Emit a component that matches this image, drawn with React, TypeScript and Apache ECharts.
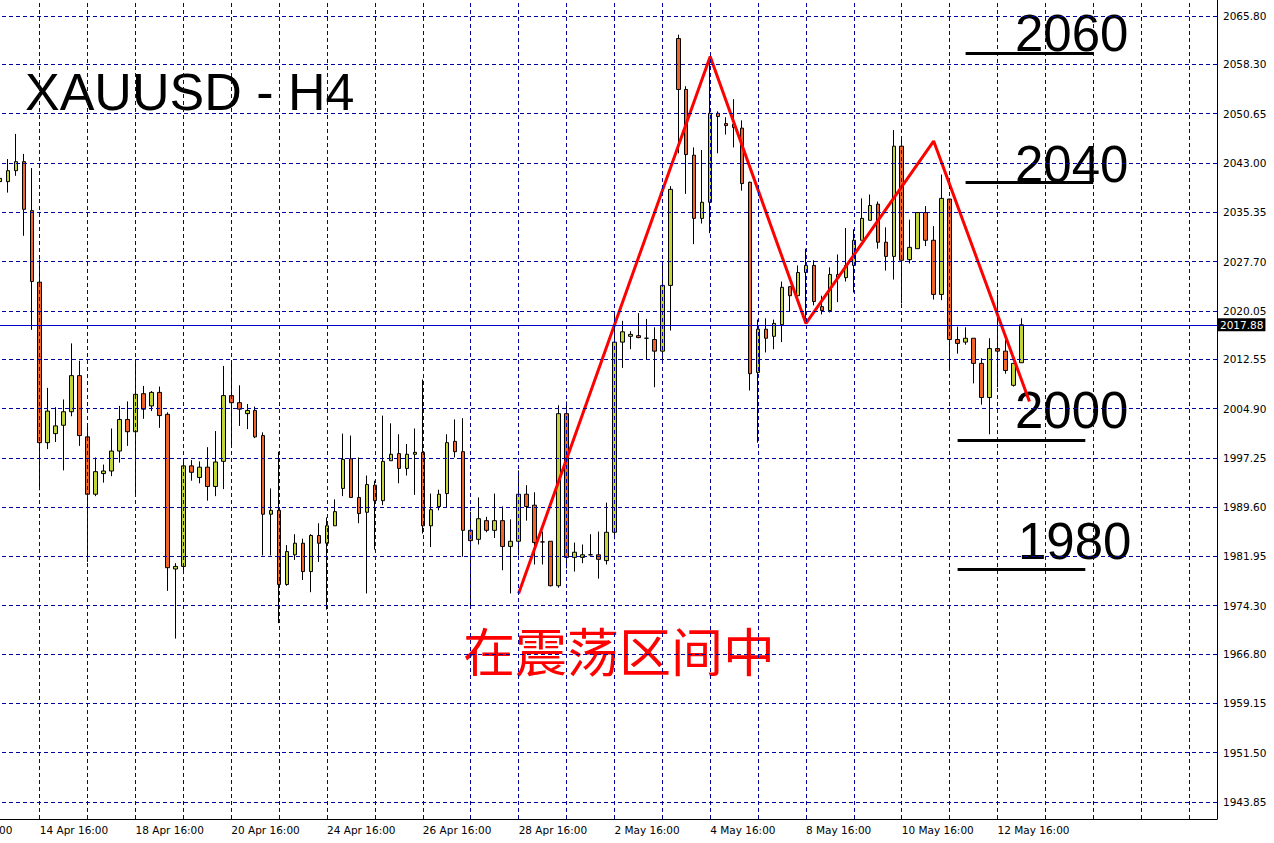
import React, { useEffect, useRef } from "react";
import * as echarts from "echarts";

// ---- time categories (H4 bars, weekdays only) ----
const days = ["12 Apr", "13 Apr", "14 Apr", "17 Apr", "18 Apr", "19 Apr", "20 Apr", "21 Apr", "24 Apr", "25 Apr", "26 Apr", "27 Apr", "28 Apr", "1 May", "2 May", "3 May", "4 May", "5 May", "8 May", "9 May", "10 May", "11 May", "12 May", "15 May", "16 May", "17 May", "18 May", "19 May"];
const hours = ["00:00", "04:00", "08:00", "12:00", "16:00", "20:00"];
const FIRST_SLOT = 3; // 12 Apr 12:00
const PAD = 8; // bars left of the first drawn candle (off screen)
const SLOTS = 161;

// ---- OHLC (first candle = 13 Apr 20:00) ----
const opens = [2040.1, 2040.1, 2041.8, 2043.2, 2035.6, 2024.5, 1999.6, 2001.0, 2002.3, 2004.4, 2010.0, 2000.5, 1991.6, 1994.8, 1995.2, 1998.3, 2003.2, 2001.3, 2007.2, 2005.3, 2007.4, 2004.0, 1980.0, 1980.4, 1996.0, 1994.2, 1995.8, 1992.8, 1996.7, 2006.9, 2005.8, 2004.1, 2004.6, 2000.7, 1988.5, 1989.1, 1977.6, 1982.2, 1984.0, 1979.6, 1985.2, 1984.0, 1986.7, 1992.5, 1997.1, 1991.1, 1988.8, 1993.0, 1990.6, 1996.8, 1997.9, 1995.6, 1997.8, 1998.1, 1986.7, 1989.7, 1991.7, 1999.8, 1998.2, 1986.0, 1984.6, 1987.5, 1986.0, 1987.5, 1983.5, 1984.3, 1991.6, 1989.9, 1984.2, 1984.3, 1977.4, 2004.1, 1981.8, 1981.8, 1982.2, 1982.2, 1981.3, 1985.7, 2015.2, 2016.1, 2016.2, 2015.8, 2015.6, 2013.8, 2024.0, 2062.3, 2054.4, 2044.2, 2034.4, 2036.9, 2050.7, 2049.1, 2049.0, 2048.4, 2040.0, 2010.5, 2017.2, 2016.1, 2017.9, 2023.8, 2022.4, 2026.0, 2027.1, 2020.7, 2020.1, 2025.2, 2025.2, 2027.1, 2031.0, 2034.1, 2036.6, 2030.7, 2028.5, 2045.6, 2028.0, 2029.7, 2035.3, 2031.0, 2022.6, 2037.4, 2015.6, 2015.2, 2015.8, 2011.9, 2006.6, 2014.2, 2013.8, 2008.5, 2012.0];
const highs = [2044.2, 2043.6, 2047.5, 2044.4, 2042.2, 2028.0, 2008.1, 2005.1, 2006.3, 2015.0, 2012.3, 2002.3, 1997.3, 1996.2, 2001.8, 2005.3, 2006.0, 2012.3, 2008.4, 2007.6, 2008.3, 2004.3, 1980.9, 1996.6, 1996.9, 1996.7, 1998.9, 2001.4, 2011.5, 2012.4, 2008.5, 2005.6, 2005.2, 2001.2, 1992.5, 1998.2, 1983.7, 1985.4, 1984.7, 1985.4, 1987.1, 1988.0, 1990.8, 2001.0, 2000.7, 1997.3, 1994.5, 1993.7, 2003.8, 2002.6, 2000.9, 1999.4, 2001.8, 2009.4, 1991.7, 1992.3, 2000.9, 2003.2, 2003.4, 1988.9, 1991.1, 1988.1, 1991.7, 1989.7, 1987.7, 1995.3, 1993.0, 1991.9, 1985.8, 1984.3, 2005.4, 2006.0, 1984.1, 1983.8, 1985.4, 1985.8, 1990.3, 2019.6, 2018.5, 2016.9, 2019.7, 2018.8, 2017.5, 2027.1, 2039.4, 2062.9, 2054.9, 2045.4, 2045.0, 2059.2, 2051.0, 2050.1, 2052.9, 2049.6, 2040.1, 2018.7, 2018.9, 2018.7, 2024.6, 2023.8, 2027.1, 2029.7, 2027.9, 2022.4, 2026.8, 2028.8, 2032.9, 2032.7, 2037.5, 2038.1, 2037.0, 2033.0, 2048.1, 2046.7, 2034.2, 2035.3, 2036.3, 2033.2, 2041.2, 2037.4, 2017.6, 2017.5, 2015.8, 2012.7, 2015.8, 2022.6, 2015.5, 2011.9, 2018.9];
const lows = [2036.5, 2038.4, 2041.0, 2031.7, 2017.1, 1992.2, 1998.6, 1999.7, 1995.3, 2003.7, 1999.1, 1981.1, 1991.3, 1993.4, 1994.4, 1996.5, 1999.1, 1991.2, 2003.3, 2004.5, 2001.9, 1976.6, 1969.2, 1979.2, 1993.7, 1993.3, 1990.6, 1991.3, 1992.4, 1998.9, 2002.2, 2001.7, 2000.3, 1982.1, 1982.1, 1971.6, 1977.4, 1981.4, 1978.3, 1976.4, 1981.1, 1973.7, 1986.7, 1991.3, 1991.1, 1987.1, 1976.2, 1983.0, 1989.9, 1996.8, 1993.3, 1994.5, 1991.5, 1985.5, 1983.4, 1989.1, 1989.5, 1997.3, 1981.9, 1974.3, 1983.8, 1985.7, 1984.8, 1979.8, 1976.2, 1982.1, 1987.5, 1980.7, 1980.7, 1977.3, 1977.1, 1980.1, 1979.6, 1980.9, 1982.1, 1978.5, 1980.7, 1984.6, 2011.2, 2014.1, 2015.8, 2012.5, 2008.2, 2011.9, 2017.0, 2044.5, 2038.2, 2030.4, 2033.6, 2032.1, 2044.5, 2047.4, 2045.4, 2038.7, 2007.7, 1999.6, 2013.6, 2014.1, 2015.2, 2020.0, 2022.4, 2018.1, 2020.9, 2019.5, 2019.8, 2021.4, 2024.6, 2022.9, 2031.0, 2034.1, 2029.7, 2026.3, 2024.9, 2021.2, 2027.4, 2029.7, 2030.1, 2021.8, 2021.7, 2011.0, 2013.4, 2014.8, 2008.8, 2005.5, 2000.9, 2008.2, 2010.3, 2008.3, 2012.0];
const closes = [2040.6, 2041.8, 2043.2, 2035.8, 2024.6, 1999.6, 2004.5, 2002.2, 2004.4, 2010.0, 2000.7, 1991.6, 1995.1, 1995.2, 1998.3, 2003.2, 2001.3, 2007.1, 2004.8, 2007.4, 2003.8, 1980.2, 1980.4, 1996.0, 1995.0, 1995.8, 1992.8, 1996.6, 2006.9, 2005.8, 2004.8, 2004.6, 2000.5, 1988.5, 1989.1, 1977.6, 1982.7, 1984.0, 1979.6, 1985.2, 1984.0, 1986.7, 1988.9, 1997.0, 1991.1, 1988.6, 1993.1, 1990.6, 1996.7, 1997.8, 1995.6, 1997.8, 1998.1, 1986.7, 1989.2, 1991.6, 1999.6, 1998.2, 1986.0, 1984.4, 1987.8, 1986.0, 1987.5, 1983.5, 1984.3, 1991.6, 1989.7, 1984.1, 1984.2, 1977.4, 2004.1, 1981.8, 1982.6, 1982.2, 1982.2, 1981.5, 1985.7, 2015.2, 2016.8, 2016.4, 2015.9, 2015.8, 2013.8, 2024.0, 2038.9, 2054.4, 2044.3, 2034.4, 2036.9, 2050.7, 2050.2, 2048.8, 2048.5, 2039.8, 2010.3, 2017.2, 2015.8, 2018.1, 2023.7, 2022.4, 2026.0, 2027.1, 2021.5, 2020.1, 2025.7, 2025.7, 2027.1, 2031.0, 2034.4, 2036.4, 2030.7, 2028.5, 2045.6, 2027.9, 2029.9, 2035.3, 2031.0, 2022.6, 2037.5, 2015.6, 2015.0, 2015.8, 2011.9, 2006.6, 2014.2, 2013.8, 2010.8, 2011.9, 2017.88];

// ---- axes ----
const labelledTimes = ["12 Apr 16:00", "14 Apr 16:00", "18 Apr 16:00", "20 Apr 16:00", "24 Apr 16:00", "26 Apr 16:00", "28 Apr 16:00", "2 May 16:00", "4 May 16:00", "8 May 16:00", "10 May 16:00", "12 May 16:00"];
const gridHour = "16:00";
const yTicks = [1943.85, 1951.5, 1959.15, 1966.8, 1974.3, 1981.95, 1989.6, 1997.25, 2004.9, 2012.55, 2020.05, 2027.7, 2035.35, 2043.0, 2050.65, 2058.3, 2065.8];
const yMin = 1941.21;
const yMax = 2068.28;
const lastPrice = 2017.88;

// ---- annotations ----
const zigzagBars = [65, 89, 101, 117, 129];
const zigzagPrices = [1976.2, 2059.5, 2018.1, 2046.4, 2006.0];
const levelPrices = [2060, 2040, 2000, 1980];
const levelFromBar = [121, 121, 120, 120];
const levelToBar = [137, 137, 136, 136];
const levelTexts = ["2060", "2040", "2000", "1980"];
const title = "XAUUSD - H4";
const note = "在震荡区间中";

const BULL = "#c3d33a";
const BEAR = "#f0642a";
const GRID = "#0000a0";
const PRICE_LINE = "#0000c8";
const AXIS_FONT = "DejaVu Sans";
const SHIFT = 68; // chart canvas starts off screen to the left

export default function App() {
  const ref = useRef<HTMLDivElement>(null);

  useEffect(() => {
    if (!ref.current) return;
    const chart = echarts.init(ref.current, undefined, { renderer: "svg" });

    const categories = days
      .flatMap((d) => hours.map((h) => `${d} ${h}`))
      .slice(FIRST_SLOT, FIRST_SLOT + SLOTS);
    const cat = (bar: number) => categories[bar + PAD];

    const candles = categories.map((_, c) => {
      const i = c - PAD;
      if (i < 0 || i >= opens.length) return "-";
      return [opens[i], closes[i], lows[i], highs[i]];
    });

    const labelSet = new Set(labelledTimes);
    const vGrid = categories.filter((c) => c.endsWith(" " + gridHour));

    const text = (t: string, x: number, y: number, size: number, fill: string, font: string) => ({
      type: "text",
      x: x + SHIFT,
      y,
      silent: true,
      style: { text: t, fontFamily: font, fontSize: size, fill, verticalAlign: "middle" },
    });

    const option: any = {
      animation: false,
      backgroundColor: "#ffffff",
      grid: { left: 0, right: 57, top: 0, bottom: 24, containLabel: false },
      xAxis: {
        type: "category",
        data: categories,
        boundaryGap: true,
        axisLine: { show: true, lineStyle: { color: "#000", width: 1 } },
        axisTick: { show: false },
        splitLine: { show: false },
        axisLabel: {
          interval: (_i: number, v: string) => labelSet.has(v),
          align: "left",
          color: "#000",
          fontFamily: AXIS_FONT,
          fontSize: 10.5,
          margin: 5,
        },
      },
      yAxis: {
        type: "value",
        position: "right",
        min: yMin,
        max: yMax,
        scale: true,
        axisLine: { show: true, lineStyle: { color: "#000", width: 1 } },
        axisTick: { show: false },
        splitLine: { show: false },
        axisLabel: {
          customValues: yTicks,
          formatter: (v: number) => v.toFixed(2),
          color: "#000",
          fontFamily: AXIS_FONT,
          fontSize: 10.5,
          margin: 6,
        },
      },
      series: [
        {
          type: "line",
          name: "grid",
          data: [],
          z: 1,
          silent: true,
          markLine: {
            silent: true,
            symbol: ["none", "none"],
            animation: false,
            label: { show: false },
            lineStyle: { type: [4, 3], color: GRID, width: 1 },
            data: [...yTicks.map((v) => ({ yAxis: v })), ...vGrid.map((c) => ({ xAxis: c }))],
          },
        },
        {
          type: "line",
          name: "last",
          data: [],
          z: 1,
          silent: true,
          markLine: {
            silent: true,
            symbol: ["none", "none"],
            animation: false,
            lineStyle: { type: "solid", color: PRICE_LINE, width: 1, opacity: 1 },
            label: {
              show: true,
              position: "end",
              formatter: lastPrice.toFixed(2),
              color: "#fff",
              backgroundColor: "#000",
              padding: [1, 2, 1, 2],
              distance: 1,
              fontFamily: AXIS_FONT,
              fontSize: 10.5,
            },
            data: [{ yAxis: lastPrice }],
          },
        },
        {
          type: "candlestick",
          data: candles,
          z: 2,
          barWidth: 4,
          itemStyle: {
            color: BULL,
            color0: BEAR,
            borderColor: "#000",
            borderColor0: "#000",
            borderWidth: 1,
          },
        },
        {
          type: "line",
          data: zigzagBars.map((b, k) => [cat(b), zigzagPrices[k]]),
          z: 3,
          symbol: "none",
          lineStyle: { color: "#ff0000", width: 3 },
          silent: true,
          markLine: {
            silent: true,
            symbol: ["none", "none"],
            animation: false,
            label: { show: false },
            lineStyle: { type: "solid", color: "#000", width: 3 },
            data: levelPrices.map((p, k) => [
              { coord: [cat(levelFromBar[k]), p] },
              { coord: [cat(levelToBar[k]), p] },
            ]),
          },
        },
      ],
      graphic: [
        text(title, 25, 92, 52, "#000", "Liberation Sans"),
        text(levelTexts[0], 1015, 33, 51, "#000", "Liberation Sans"),
        text(levelTexts[1], 1015, 164, 51, "#000", "Liberation Sans"),
        text(levelTexts[2], 1015, 410, 51, "#000", "Liberation Sans"),
        text(levelTexts[3], 1018, 541, 51, "#000", "Liberation Sans"),
        text(note, 463, 649, 52, "#ff0000", "Noto Sans CJK SC"),
      ],
    };

    chart.setOption(option);
    return () => chart.dispose();
  }, []);

  return (
    <div
      ref={ref}
      style={{ position: "absolute", left: -SHIFT, top: 0, width: 1274 + SHIFT, height: 843, background: "#fff" }}
    />
  );
}
